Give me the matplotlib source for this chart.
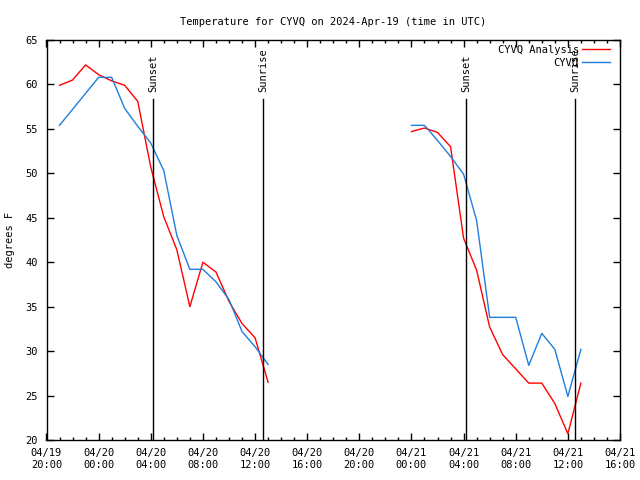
import matplotlib
matplotlib.use("Agg")
import matplotlib.pyplot as plt
import matplotlib.dates as mdates
import pandas as pd

plt.rcParams['font.family'] = ['DejaVu Sans Mono']
FS = 7.5

# Analysis (red)
ana_times = ["2024-04-19 21:00", "2024-04-19 22:00", "2024-04-19 23:00", "2024-04-20 00:00",
             "2024-04-20 01:00", "2024-04-20 02:00", "2024-04-20 03:00", "2024-04-20 04:00",
             "2024-04-20 05:00", "2024-04-20 06:00", "2024-04-20 07:00", "2024-04-20 08:00",
             "2024-04-20 09:00", "2024-04-20 10:00", "2024-04-20 11:00", "2024-04-20 12:00",
             "2024-04-20 13:00"]
ana_temps = [59.9, 60.5, 62.2, 61.1, 60.4, 59.9, 58.1, 50.7, 45.1, 41.4, 35.0, 40.0,
             38.9, 35.6, 33.1, 31.5, 26.5]
ana_times2 = ["2024-04-21 00:00", "2024-04-21 01:00", "2024-04-21 02:00", "2024-04-21 03:00",
              "2024-04-21 04:00", "2024-04-21 05:00", "2024-04-21 06:00", "2024-04-21 07:00",
              "2024-04-21 08:00", "2024-04-21 09:00", "2024-04-21 10:00", "2024-04-21 11:00",
              "2024-04-21 12:00", "2024-04-21 13:00"]
ana_temps2 = [54.7, 55.1, 54.6, 53.0, 42.7, 39.1, 32.7, 29.6, 28.0, 26.4, 26.4, 24.1, 20.7, 26.4]

# Observations (blue)
obs_times = ["2024-04-19 21:00", "2024-04-20 00:00", "2024-04-20 01:00", "2024-04-20 02:00",
             "2024-04-20 03:00", "2024-04-20 04:00", "2024-04-20 05:00", "2024-04-20 06:00",
             "2024-04-20 07:00", "2024-04-20 08:00", "2024-04-20 09:00", "2024-04-20 10:00",
             "2024-04-20 11:00", "2024-04-20 12:00", "2024-04-20 13:00"]
obs_temps = [55.4, 60.8, 60.8, 57.3, 55.3, 53.4, 50.3, 43.0, 39.2, 39.2, 37.8, 35.8,
             32.2, 30.5, 28.5]
obs_times2 = ["2024-04-21 00:00", "2024-04-21 01:00", "2024-04-21 02:00", "2024-04-21 03:00",
              "2024-04-21 04:00", "2024-04-21 05:00", "2024-04-21 06:00", "2024-04-21 07:00",
              "2024-04-21 08:00", "2024-04-21 09:00", "2024-04-21 10:00", "2024-04-21 11:00",
              "2024-04-21 12:00", "2024-04-21 13:00"]
obs_temps2 = [55.4, 55.4, 53.7, 51.9, 49.9, 44.7, 33.8, 33.8, 33.8, 28.4, 32.0, 30.2, 24.9, 30.2]

sun_labels = ["Sunset", "Sunrise", "Sunset", "Sunrise"]
sun_times = ["2024-04-20 04:11", "2024-04-20 12:37", "2024-04-21 04:13", "2024-04-21 12:32"]

RED = '#ff0000'
BLUE = '#1e7fdc'

fig = plt.figure(figsize=(6.4, 4.8), dpi=100)
ax = fig.add_axes([46.5/640, 40/480, (620-46.5)/640, 400/480])

ax.plot(pd.to_datetime(ana_times), ana_temps, color=RED, lw=1.0, label='CYVQ Analysis')
ax.plot(pd.to_datetime(ana_times2), ana_temps2, color=RED, lw=1.0)
ax.plot(pd.to_datetime(obs_times), obs_temps, color=BLUE, lw=1.0, label='CYVQ')
ax.plot(pd.to_datetime(obs_times2), obs_temps2, color=BLUE, lw=1.0)

for lab, t in zip(sun_labels, sun_times):
    tt = pd.Timestamp(t)
    ax.plot([tt, tt], [20, 58.4], color='black', lw=1.0)
    ax.text(tt, 59.2, lab, rotation=90, ha='center', va='bottom', fontsize=FS)

ax.set_xlim(pd.Timestamp("2024-04-19 20:00"), pd.Timestamp("2024-04-21 16:00"))
ax.set_ylim(20, 65)
ax.set_yticks([20, 25, 30, 35, 40, 45, 50, 55, 60, 65])
ax.xaxis.set_major_locator(mdates.HourLocator(byhour=range(0, 24, 4)))
ax.xaxis.set_minor_locator(mdates.HourLocator())
ax.xaxis.set_major_formatter(mdates.DateFormatter('%m/%d\n%H:%M'))
ax.tick_params(axis='both', which='major', direction='in', length=5, width=1,
               top=True, right=True, labelsize=FS, pad=6)
ax.tick_params(axis='x', which='minor', direction='in', length=2.5, width=1, top=True)
for s in ax.spines.values():
    s.set_linewidth(1.0)

ax.set_ylabel('degrees F', fontsize=FS, labelpad=8)
ax.set_title('Temperature for CYVQ on 2024-Apr-19 (time in UTC)', fontsize=FS, pad=11)

ax.legend(loc='upper right', bbox_to_anchor=((610 - 46.5) / 573.5, 0.988),
          frameon=False, markerfirst=False, fontsize=FS,
          handlelength=2.7, handletextpad=0.3, labelspacing=0.3,
          borderaxespad=0, borderpad=0)

fig.savefig('out.png', dpi=100)
